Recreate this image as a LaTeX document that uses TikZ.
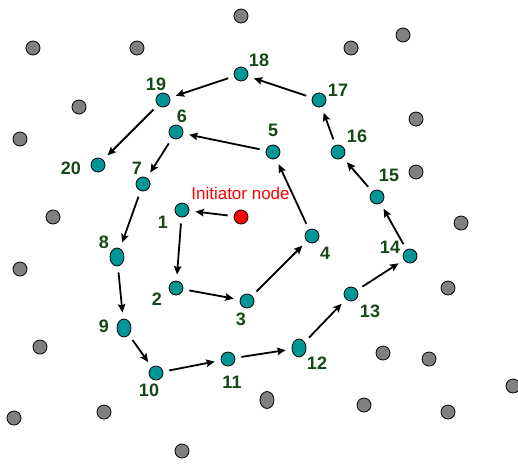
\documentclass[tikz,border=0pt]{standalone}
\usepackage{fontspec}
\setmainfont{Liberation Sans}
\usetikzlibrary{arrows.meta,shapes.geometric}
\definecolor{tealc}{RGB}{0,150,150}
\definecolor{grayc}{RGB}{128,128,128}
\definecolor{lblc}{RGB}{20,72,20}
\begin{document}
\begin{tikzpicture}[x=1pt,y=-1pt,
  pnode/.style={circle,draw=black,line width=0.8pt,fill=tealc,minimum size=14pt,inner sep=0pt,outer sep=6.5pt},
  pell/.style={ellipse,draw=black,line width=0.8pt,fill=tealc,minimum width=14pt,minimum height=18pt,inner sep=0pt,outer sep=6.5pt},
  gnode/.style={circle,draw=black,line width=0.8pt,fill=grayc,minimum size=14pt,inner sep=0pt},
  gell/.style={ellipse,draw=black,line width=0.8pt,fill=grayc,minimum width=14pt,minimum height=17pt,inner sep=0pt},
  inode/.style={circle,draw=black,line width=0.8pt,fill=red,minimum size=14pt,inner sep=0pt,outer sep=6.5pt},
  lbl/.style={text=lblc,font=\fontsize{18}{18}\selectfont\bfseries,inner sep=0pt},
  arr/.style={-{Stealth[length=8.5pt,width=7.5pt,inset=1.5pt]},line width=1.8pt}]
\useasboundingbox (0,0) rectangle (518,464);
% gray nodes
\foreach \x/\y [count=\i] in {241/16,33/48,137/48,79/107,20/139,53/217,351/48,403/35,416/119,416/172,461/223,20/269,40/347,14/418,104/412,182/451,448/288,383/353,429/359,513/386,364/405,448/412}
  \node[gnode] (g\i) at (\x,\y) {};
\node[gell] (g23) at (267,400) {};
% path nodes
\node[inode] (ini) at (241,217) {};
\node[pnode] (n1) at (182,210) {};
\node[pnode] (n2) at (176,288) {};
\node[pnode] (n3) at (247,301) {};
\node[pnode] (n4) at (312,236) {};
\node[pnode] (n5) at (273,152) {};
\node[pnode] (n6) at (176,132) {};
\node[pnode] (n7) at (143,184) {};
\node[pell]  (n8) at (117,257) {};
\node[pell]  (n9) at (124,328) {};
\node[pnode] (n10) at (156,373) {};
\node[pnode] (n11) at (228,359) {};
\node[pell]  (n12) at (299,348) {};
\node[pnode] (n13) at (351,294) {};
\node[pnode] (n14) at (410,256) {};
\node[pnode] (n15) at (377,197) {};
\node[pnode] (n16) at (338,152) {};
\node[pnode] (n17) at (319,100) {};
\node[pnode] (n18) at (241,74) {};
\node[pnode] (n19) at (163,100) {};
\node[pnode] (n20) at (98,165) {};
% labels
\node[text=red,font=\fontsize{17}{17}\selectfont,inner sep=0pt] (tini) at (240.5,193) {Initiator node};
\node[lbl] (l1) at (163,222) {1};
\node[lbl] (l2) at (157,299) {2};
\node[lbl] (l3) at (241,319) {3};
\node[lbl] (l4) at (325,253) {4};
\node[lbl] (l5) at (273,130) {5};
\node[lbl] (l6) at (182,116) {6};
\node[lbl] (l7) at (137,168) {7};
\node[lbl] (l8) at (104,242) {8};
\node[lbl] (l9) at (104,326) {9};
\node[lbl] (l10) at (149,390) {10};
\node[lbl] (l11) at (232,382) {11};
\node[lbl] (l12) at (317,363) {12};
\node[lbl] (l13) at (370,311) {13};
\node[lbl] (l14) at (390,247) {14};
\node[lbl] (l15) at (389,175) {15};
\node[lbl] (l16) at (357,136) {16};
\node[lbl] (l17) at (338,90) {17};
\node[lbl] (l18) at (259,60) {18};
\node[lbl] (l19) at (156,84) {19};
\node[lbl] (l20) at (71,168) {20};
% arrows
\draw[arr] (ini) -- (n1);
\draw[arr] (n1) -- (n2);
\draw[arr] (n2) -- (n3);
\draw[arr] (n3) -- (n4);
\draw[arr] (n4) -- (n5);
\draw[arr] (n5) -- (n6);
\draw[arr] (n6) -- (n7);
\draw[arr] (n7) -- (n8);
\draw[arr] (n8) -- (n9);
\draw[arr] (n9) -- (n10);
\draw[arr] (n10) -- (n11);
\draw[arr] (n11) -- (n12);
\draw[arr] (n12) -- (n13);
\draw[arr] (n13) -- (n14);
\draw[arr] (n14) -- (n15);
\draw[arr] (n15) -- (n16);
\draw[arr] (n16) -- (n17);
\draw[arr] (n17) -- (n18);
\draw[arr] (n18) -- (n19);
\draw[arr] (n19) -- (n20);
\end{tikzpicture}
\end{document}
